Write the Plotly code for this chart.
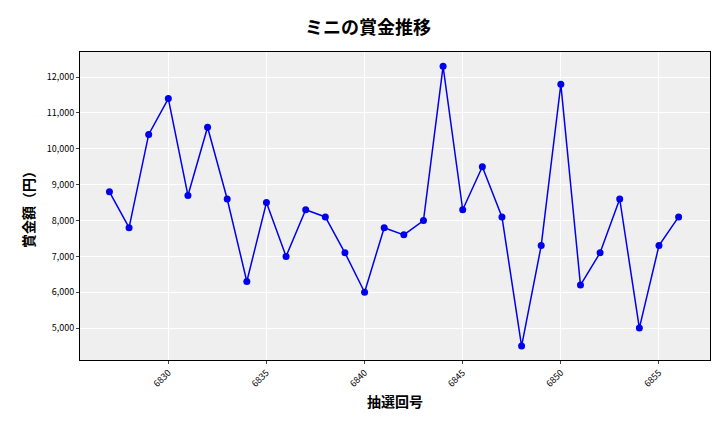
import plotly.graph_objects as go

draws = list(range(6827, 6857))
prizes = [8800, 7800, 10400, 11400, 8700, 10600, 8600, 6300, 8500, 7000,
          8300, 8100, 7100, 6000, 7800, 7600, 8000, 12300, 8300, 9500,
          8100, 4500, 7300, 11800, 6200, 7100, 8600, 5000, 7300, 8100]
xticks = [6830, 6835, 6840, 6845, 6850, 6855]
yticks = [5000, 6000, 7000, 8000, 9000, 10000, 11000, 12000]

font = "Noto Sans CJK JP"
fig = go.Figure()
fig.add_trace(go.Scatter(x=draws, y=prizes, mode='lines+markers',
                         line=dict(color='#0000ee', width=1.5),
                         marker=dict(color='#0000ee', size=7)))
fig.update_layout(
    width=720, height=432, template=None,
    paper_bgcolor='white', plot_bgcolor='#efefef',
    font=dict(family=font, color='black'),
    title=dict(text='<b>ミニの賞金推移</b>', x=0.5, xanchor='center', y=0.97, font=dict(size=18)),
    margin=dict(l=72, r=18, t=44, b=80),
    showlegend=False,
)
fig.update_xaxes(range=[6825.5, 6857.6], tickvals=xticks, tickangle=-45, automargin=False,
                 tickfont=dict(size=9), showgrid=True, gridcolor='white', zeroline=False,
                 showline=True, linecolor='black', mirror=True, ticks='outside', ticklen=3,
                 title=dict(text='<b>抽選回号</b>', font=dict(size=14), standoff=8))
fig.update_yaxes(range=[4110, 12700], tickvals=yticks, tickformat=',', automargin=False,
                 tickfont=dict(size=9), showgrid=True, gridcolor='white', zeroline=False,
                 showline=True, linecolor='black', mirror=True, ticks='outside', ticklen=3,
                 title=dict(text='<b>賞金額（円）</b>', font=dict(size=14), standoff=8))
fig.write_html("out.html")
